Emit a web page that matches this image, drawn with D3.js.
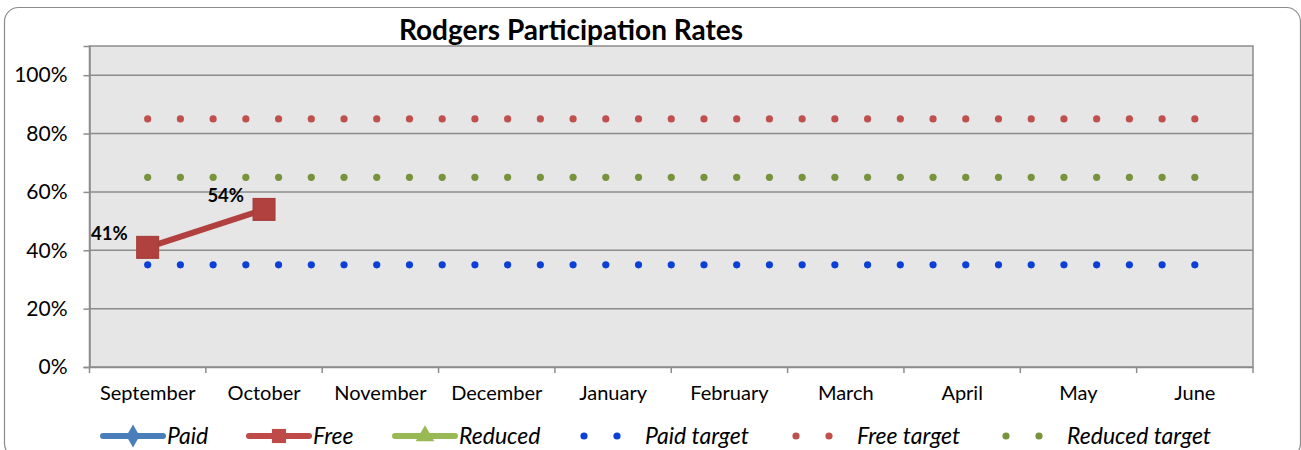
<!DOCTYPE html>
<html>
<head>
<meta charset="utf-8">
<script src="https://cdn.jsdelivr.net/npm/d3@7"></script>
<style>
  body { margin: 0; background: #fff; }
  text { font-family: Lato, "Open Sans", sans-serif; }
</style>
</head>
<body>
<div id="chart"></div>
<script>
const months = ["September", "October", "November", "December", "January",
  "February", "March", "April", "May", "June"];
const freeValues = [0.41, 0.54];
const yTicks = [0, 0.2, 0.4, 0.6, 0.8, 1.0];

// target series are plotted on a finer grid (33 points from Sept to June)
const paidTarget = [0.35, 0.35, 0.35, 0.35, 0.35, 0.35, 0.35, 0.35, 0.35, 0.35, 0.35,
  0.35, 0.35, 0.35, 0.35, 0.35, 0.35, 0.35, 0.35, 0.35, 0.35, 0.35,
  0.35, 0.35, 0.35, 0.35, 0.35, 0.35, 0.35, 0.35, 0.35, 0.35, 0.35];
const freeTarget = [0.85, 0.85, 0.85, 0.85, 0.85, 0.85, 0.85, 0.85, 0.85, 0.85, 0.85,
  0.85, 0.85, 0.85, 0.85, 0.85, 0.85, 0.85, 0.85, 0.85, 0.85, 0.85,
  0.85, 0.85, 0.85, 0.85, 0.85, 0.85, 0.85, 0.85, 0.85, 0.85, 0.85];
const reducedTarget = [0.65, 0.65, 0.65, 0.65, 0.65, 0.65, 0.65, 0.65, 0.65, 0.65, 0.65,
  0.65, 0.65, 0.65, 0.65, 0.65, 0.65, 0.65, 0.65, 0.65, 0.65, 0.65,
  0.65, 0.65, 0.65, 0.65, 0.65, 0.65, 0.65, 0.65, 0.65, 0.65, 0.65];

const width = 1301, height = 450;
const plot = { left: 89.5, right: 1253, top: 46, bottom: 367 };

const svg = d3.select("#chart").append("svg")
  .attr("width", width)
  .attr("height", height);

// outer chart border
svg.append("rect")
  .attr("x", 4.5).attr("y", 7.5)
  .attr("width", 1296).attr("height", 450)
  .attr("rx", 14)
  .attr("fill", "#fff")
  .attr("stroke", "#8c8c8c")
  .attr("stroke-width", 1.2);

const x = d3.scaleBand().domain(months).range([plot.left, plot.right]);
const y = d3.scaleLinear().domain([0, 1.1]).range([plot.bottom, plot.top]);

const xt = d3.scalePoint()
  .domain(d3.range(paidTarget.length))
  .range([x(months[0]) + x.bandwidth() / 2, x(months[months.length - 1]) + x.bandwidth() / 2]);

// plot background
svg.append("rect")
  .attr("x", plot.left).attr("y", plot.top)
  .attr("width", plot.right - plot.left).attr("height", plot.bottom - plot.top)
  .attr("fill", "#e6e6e6")
  .attr("stroke", "#8c8c8c")
  .attr("stroke-width", 1.5);

// grid
svg.append("g").selectAll("line")
  .data(yTicks.slice(1))
  .enter().append("line")
  .attr("x1", plot.left).attr("x2", plot.right)
  .attr("y1", d => y(d)).attr("y2", d => y(d))
  .attr("stroke", "#8c8c8c")
  .attr("stroke-width", 1.5);

// y axis
const yAxis = svg.append("g")
  .attr("transform", "translate(" + plot.left + ",0)")
  .call(d3.axisLeft(y).tickValues(yTicks).tickFormat(d3.format(".0%")).tickSize(6).tickPadding(16));
yAxis.select(".domain").attr("stroke", "#8c8c8c").attr("stroke-width", 1.5);
yAxis.selectAll(".tick line").attr("stroke", "#8c8c8c").attr("stroke-width", 1.5);
yAxis.selectAll(".tick text").attr("font-size", 21).attr("fill", "#000")
  .style("font-family", "Lato, sans-serif");

// x axis
const xAxis = svg.append("g")
  .attr("transform", "translate(0," + plot.bottom + ")")
  .call(d3.axisBottom(x).tickSize(0).tickPadding(19));
xAxis.select(".domain").attr("stroke", "#8c8c8c").attr("stroke-width", 1.5);
xAxis.selectAll(".tick text").attr("font-size", 20).attr("fill", "#000")
  .style("font-family", "Lato, sans-serif");
svg.append("g").selectAll("line")
  .data(months.concat(["end"]))
  .enter().append("line")
  .attr("x1", (d, i) => i < months.length ? x(d) : plot.right)
  .attr("x2", (d, i) => i < months.length ? x(d) : plot.right)
  .attr("y1", plot.bottom).attr("y2", plot.bottom + 6)
  .attr("stroke", "#8c8c8c")
  .attr("stroke-width", 1.5);

// target dots
const targets = [
  { values: paidTarget, color: "#0b3fd6" },
  { values: freeTarget, color: "#c0504d" },
  { values: reducedTarget, color: "#77933c" }
];
targets.forEach(t => {
  svg.append("g").selectAll("circle")
    .data(t.values)
    .enter().append("circle")
    .attr("cx", (d, i) => xt(i))
    .attr("cy", d => y(d))
    .attr("r", 3.6)
    .attr("fill", t.color);
});

// Free series
const cx = (d, i) => x(months[i]) + x.bandwidth() / 2;
svg.append("path")
  .datum(freeValues)
  .attr("fill", "none")
  .attr("stroke", "#b0413e")
  .attr("stroke-width", 6)
  .attr("d", d3.line().x(cx).y(d => y(d)));

svg.append("g").selectAll("rect")
  .data(freeValues)
  .enter().append("rect")
  .attr("x", (d, i) => cx(d, i) - 11)
  .attr("y", d => y(d) - 11)
  .attr("width", 22).attr("height", 22)
  .attr("fill", "#b0413e")
  .attr("stroke", "#a33c39");

svg.append("g").selectAll("text")
  .data(freeValues)
  .enter().append("text")
  .attr("x", (d, i) => cx(d, i) - 20)
  .attr("y", d => y(d) - 7)
  .attr("text-anchor", "end")
  .attr("font-size", 18.5)
  .attr("font-weight", "bold")
  .text(d3.format(".0%"));

// title
svg.append("text")
  .attr("x", 571).attr("y", 40)
  .attr("text-anchor", "middle")
  .attr("font-size", 28)
  .attr("font-weight", "bold")
  .text("Rodgers Participation Rates");

// legend
const legendY = 436;
const legendLines = [
  { name: "Paid", color: "#4a7ebb", x: 103, marker: "diamond" },
  { name: "Free", color: "#be4b48", x: 249, marker: "square" },
  { name: "Reduced", color: "#98b954", x: 395, marker: "triangle" }
];
legendLines.forEach(l => {
  const g = svg.append("g");
  g.append("line")
    .attr("x1", l.x).attr("x2", l.x + 60)
    .attr("y1", legendY).attr("y2", legendY)
    .attr("stroke", l.color).attr("stroke-width", 6)
    .attr("stroke-linecap", "round");
  const sym = l.marker === "diamond" ? d3.symbolDiamond
    : l.marker === "square" ? d3.symbolSquare : d3.symbolTriangle;
  g.append("path")
    .attr("transform", "translate(" + (l.x + 30) + "," + legendY + ")")
    .attr("d", d3.symbol().type(sym).size(l.marker === "square" ? 200 : 150)())
    .attr("fill", l.color);
  g.append("text")
    .attr("x", l.x + 64).attr("y", legendY + 8)
    .attr("font-size", 23)
    .attr("font-style", "italic")
    .text(l.name);
});

const legendDots = [
  { name: "Paid target", color: "#0b3fd6", x: 584 },
  { name: "Free target", color: "#c0504d", x: 796 },
  { name: "Reduced target", color: "#77933c", x: 1006 }
];
legendDots.forEach(l => {
  const g = svg.append("g");
  g.selectAll("circle").data([0, 33]).enter().append("circle")
    .attr("cx", d => l.x + d).attr("cy", legendY)
    .attr("r", 3.6).attr("fill", l.color);
  g.append("text")
    .attr("x", l.x + 61).attr("y", legendY + 8)
    .attr("font-size", 23)
    .attr("font-style", "italic")
    .text(l.name);
});
</script>
</body>
</html>
